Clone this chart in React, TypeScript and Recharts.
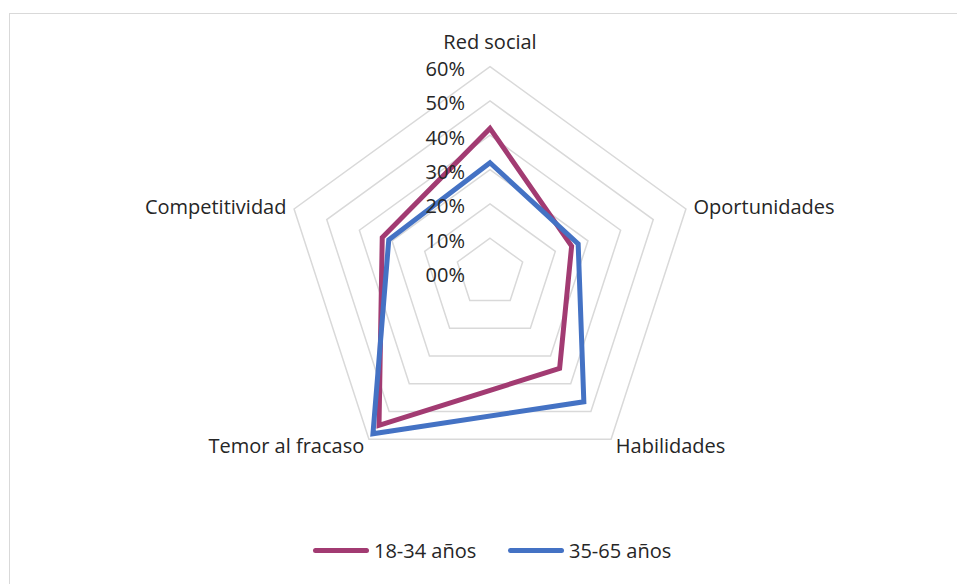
import React from 'react';
import { RadarChart, Radar, PolarGrid, PolarAngleAxis, PolarRadiusAxis, Legend } from 'recharts';

const categories = ['Red social', 'Oportunidades', 'Habilidades', 'Temor al fracaso', 'Competitividad'];
const young = [42, 25, 34.5, 55, 33];
const older = [32, 27, 46.5, 58, 31];
const radiusTicks = [0, 10, 20, 30, 40, 50, 60];
const radiusTickLabels = ['00%', '10%', '20%', '30%', '40%', '50%', '60%'];
const seriesNames = ['18-34 años', '35-65 años'];
const seriesColors = ['#A23B72', '#4472C4'];

const data = categories.map((c, i) => ({ cat: c, young: young[i], older: older[i] }));

const FONT = '"Open Sans", sans-serif';
const TEXT = '#262626';
const FS = 20;

const RadiusTick = (props: any) => {
  const { x, y, index } = props;
  return (
    <text x={x - 25} y={y + 2} textAnchor="end" dominantBaseline="central" fontFamily={FONT} fontSize={FS} fill={TEXT}>
      {radiusTickLabels[index]}
    </text>
  );
};

const AngleTick = (props: any) => {
  const { x, y, textAnchor, payload } = props;
  const dy = textAnchor === 'middle' ? -17 : 0;
  return (
    <text x={x} y={y + dy} textAnchor={textAnchor} dominantBaseline="central" fontFamily={FONT} fontSize={FS} fill={TEXT}>
      {payload.value}
    </text>
  );
};

const LegendContent = () => (
  <div style={{ display: 'flex', alignItems: 'center', fontFamily: FONT, fontSize: FS, color: TEXT, marginLeft: 313 }}>
    {seriesNames.map((n, i) => (
      <div key={n} style={{ display: 'flex', alignItems: 'center', width: i === 0 ? 195 : 'auto' }}>
        <div style={{ width: 56, height: 5, borderRadius: 3, background: seriesColors[i], marginRight: 5 }} />
        <span>{n}</span>
      </div>
    ))}
  </div>
);

export default function App() {
  return (
    <div style={{ position: 'absolute', left: 0, top: 0, width: 957, height: 584, overflow: 'hidden', background: '#fff' }}>
      <div style={{ position: 'absolute', left: 9, top: 13, width: 1000, height: 700, border: '1.5px solid #d9d9d9', boxSizing: 'border-box' }} />
      <div style={{ position: 'absolute', left: 0, top: 0 }}>
        <RadarChart width={957} height={584} data={data} cx={490} cy={272.6} outerRadius={206} margin={{ top: 0, right: 0, bottom: 0, left: 0 }}>
          <PolarGrid gridType="polygon" radialLines={false} stroke="#d9d9d9" strokeWidth={1.5} />
          <PolarAngleAxis dataKey="cat" tick={<AngleTick />} axisLine={false} tickLine={false} />
          <PolarRadiusAxis angle={90} type="number" domain={[0, 60]} ticks={radiusTicks} tickCount={7} allowDataOverflow={true} tick={<RadiusTick />} axisLine={false} tickLine={false} />
          <Radar name={seriesNames[0]} dataKey="young" stroke={seriesColors[0]} strokeWidth={5} fill="none" fillOpacity={0} isAnimationActive={false} dot={false} />
          <Radar name={seriesNames[1]} dataKey="older" stroke={seriesColors[1]} strokeWidth={5} fill="none" fillOpacity={0} isAnimationActive={false} dot={false} />
          <Legend content={<LegendContent />} wrapperStyle={{ position: 'absolute', top: 537, left: 0, width: 957 }} />
        </RadarChart>
      </div>
    </div>
  );
}
